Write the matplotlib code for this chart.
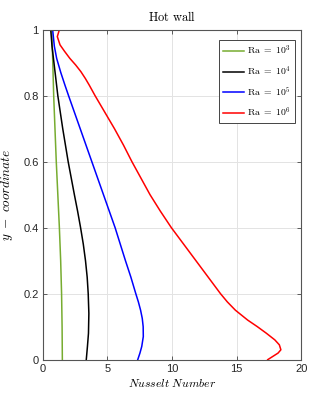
import numpy as np
import matplotlib
matplotlib.use('Agg')
import matplotlib.pyplot as plt

plt.rcParams['mathtext.fontset'] = 'cm'

# values (y position, Nusselt number)
y_ra3 = [1.0, 0.9, 0.8, 0.7, 0.6, 0.5, 0.4, 0.3, 0.2, 0.1, 0.0]
nu_ra3 = [0.70, 0.78, 0.85, 0.95, 1.05, 1.17, 1.29, 1.39, 1.46, 1.50, 1.52]

y_ra4 = [1.0, 0.95, 0.9, 0.8, 0.7, 0.6, 0.55, 0.5, 0.45, 0.4, 0.35, 0.3, 0.25, 0.2, 0.14,
         0.08, 0.04, 0.0]
nu_ra4 = [0.62, 0.72, 0.87, 1.17, 1.55, 1.97, 2.21, 2.45, 2.70, 2.93, 3.14, 3.31, 3.44, 3.52, 3.57,
          3.54, 3.46, 3.37]

y_ra5 = [1.0, 0.95, 0.913, 0.87, 0.832, 0.8, 0.7, 0.6, 0.5, 0.4, 0.3, 0.25, 0.2, 0.175,
         0.15, 0.125, 0.1, 0.07, 0.04, 0.02, 0.0]
nu_ra5 = [0.77, 0.90, 1.08, 1.40, 1.72, 2.00, 2.90, 3.80, 4.70, 5.60, 6.40, 6.82, 7.20, 7.40,
          7.57, 7.70, 7.77, 7.78, 7.66, 7.52, 7.35]

y_ra6 = [1.0, 0.979, 0.954, 0.935, 0.913, 0.893, 0.873, 0.852, 0.832, 0.8, 0.75, 0.7, 0.65,
         0.6, 0.55, 0.5, 0.45, 0.4, 0.35, 0.3, 0.25, 0.2, 0.175, 0.15, 0.12, 0.1, 0.08,
         0.06, 0.045, 0.03, 0.02, 0.01, 0.0]
nu_ra6 = [1.29, 1.13, 1.34, 1.68, 2.10, 2.55, 2.95, 3.30, 3.60, 4.05, 4.80, 5.55, 6.25,
          6.90, 7.60, 8.30, 9.10, 9.95, 10.90, 11.85, 12.80, 13.75, 14.28, 14.90, 15.85, 16.60, 17.30,
          17.95, 18.30, 18.42, 18.20, 17.80, 17.40]

labels = [r'$\mathrm{Ra}\ =\ 10^3$', r'$\mathrm{Ra}\ =\ 10^4$',
          r'$\mathrm{Ra}\ =\ 10^5$', r'$\mathrm{Ra}\ =\ 10^6$']
colors = ['#77AC30', 'black', 'blue', 'red']

x_ticks = [0, 5, 10, 15, 20]
y_ticks = [0, 0.2, 0.4, 0.6, 0.8, 1]
y_tick_labels = ['0', '0.2', '0.4', '0.6', '0.8', '1']

fig = plt.figure(figsize=(3.32, 4.05), dpi=100)
ax = fig.add_axes([0.1286, 0.1119, 0.779, 0.8148])

series = [(nu_ra3, y_ra3), (nu_ra4, y_ra4), (nu_ra5, y_ra5), (nu_ra6, y_ra6)]
for (nu, yy), c, lab in zip(series, colors, labels):
    ax.plot(nu, yy, color=c, linewidth=1.1, label=lab, solid_joinstyle='round')

ax.set_xlim(0, 20)
ax.set_ylim(0, 1)
ax.set_xticks(x_ticks)
ax.set_yticks(y_ticks)
ax.set_yticklabels(y_tick_labels)
for lbl in ax.get_xticklabels() + ax.get_yticklabels():
    lbl.set_family('Liberation Sans')
    lbl.set_fontsize(8)
    lbl.set_color('#262626')

ax.grid(True, color='#e3e3e3', linewidth=0.7)
ax.set_axisbelow(True)
ax.tick_params(direction='in', top=True, right=True, length=3, width=0.6,
               color='#444444', pad=3)
for sp in ax.spines.values():
    sp.set_color('#555555')
    sp.set_linewidth(0.8)

ax.set_title(r'$\mathrm{Hot\ wall}$', fontsize=9, pad=6)
ax.set_xlabel(r'$Nusselt\ Number$', fontsize=8.5, labelpad=2)
ax.set_ylabel(r'$y\ -\ coordinate$', fontsize=9.5, labelpad=6)

leg = ax.legend(loc='upper right', bbox_to_anchor=(0.975, 0.97), borderaxespad=0,
                fontsize=7, fancybox=False, framealpha=1, edgecolor='#444444',
                handlelength=2.2, labelspacing=0.75, handletextpad=0.3, borderpad=0.4)
leg.get_frame().set_linewidth(0.7)

fig.savefig('out.png', dpi=100)
